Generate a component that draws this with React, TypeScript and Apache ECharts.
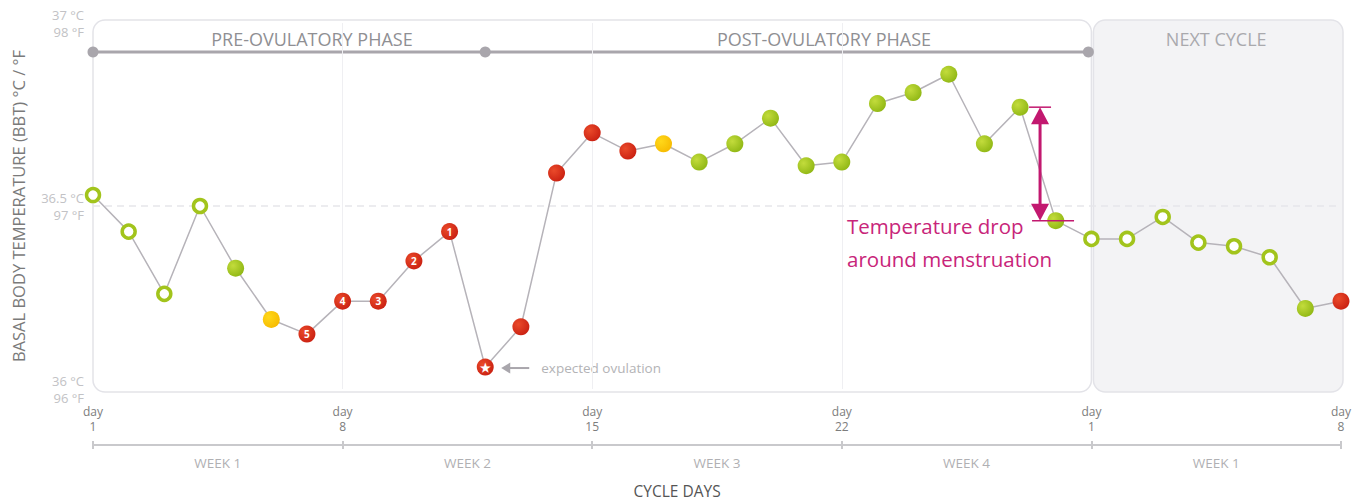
import React, { useEffect, useRef } from "react";
import * as echarts from "echarts";

const days = [1, 2, 3, 4, 5, 6, 7, 8, 9, 10, 11, 12, 13, 14, 15, 16, 17, 18, 19, 20, 21, 22, 23, 24, 25, 26, 27, 28, 29, 30, 31, 32, 33, 34, 35, 36];
const temps = [36.53, 36.43, 36.26, 36.5, 36.33, 36.19, 36.15, 36.24, 36.24, 36.35, 36.43, 36.06, 36.17, 36.59, 36.7, 36.65, 36.67, 36.62, 36.67, 36.74, 36.61, 36.62, 36.78, 36.81, 36.86, 36.67, 36.77, 36.46, 36.41, 36.41, 36.47, 36.4, 36.39, 36.36, 36.22, 36.24];
// h = hollow, g = green, y = yellow, r = red, s = red with star
const kinds = ["h", "h", "h", "h", "g", "y", "r", "r", "r", "r", "r", "s", "r", "r", "r", "r", "y", "g", "g", "g", "g", "g", "g", "g", "g", "g", "g", "g", "h", "h", "h", "h", "h", "h", "g", "r"];
const badges = ["", "", "", "", "", "", "5", "4", "3", "2", "1", "★", "", "", "", "", "", "", "", "", "", "", "", "", "", "", "", "", "", "", "", "", "", "", "", ""];
const dayTicks = [1, 8, 15, 22, 29, 36];
const dayTickLabels = ["1", "8", "15", "22", "1", "8"];
const weekCenters = [4.5, 11.5, 18.5, 25.5, 32.5];
const weekLabels = ["WEEK 1", "WEEK 2", "WEEK 3", "WEEK 4", "WEEK 1"];
const yTicks = [36, 36.5, 37];
const yTickLabels = ["36 °C\n96 °F", "36.5 °C\n97 °F", "37 °C\n98 °F"];
const gridDays = [8, 15, 22];
const phaseDots = [1, 12, 29];
const phaseNames = ["PRE-OVULATORY PHASE", "POST-OVULATORY PHASE", "NEXT CYCLE"];
const phaseLabelDays = [7.14, 21.5, 32.5];
const xTitle = "CYCLE DAYS";
const xTitleDay = 17.38;
const ovulationDay = 12;
const dropFromDay = 27;
const dropToDay = 28;

const FONT = "'Open Sans', 'Noto Sans', sans-serif";

function markerStyle(kind: string) {
  if (kind === "h") {
    return { symbolSize: 13, itemStyle: { color: "#ffffff", borderColor: "#a2c41c", borderWidth: 3.5 } };
  }
  const stops: Record<string, [string, string]> = {
    g: ["#c3dc3c", "#8db512"],
    y: ["#ffd81a", "#f6b900"],
    r: ["#ea4a2a", "#c81e10"],
    s: ["#ea4a2a", "#c81e10"],
  };
  const [a, b] = stops[kind];
  return {
    symbolSize: 17,
    itemStyle: {
      color: new echarts.graphic.RadialGradient(0.35, 0.35, 0.75, [
        { offset: 0, color: a },
        { offset: 1, color: b },
      ]),
      borderWidth: 0,
    },
  };
}

export default function App() {
  const ref = useRef<HTMLDivElement>(null);
  useEffect(() => {
    document.body.style.margin = "0";
    const chart = echarts.init(ref.current!, null, { renderer: "svg" });
    const data = days.map((d, i) => {
      const st = markerStyle(kinds[i]);
      return {
        value: [d, temps[i]],
        symbol: "circle",
        symbolSize: st.symbolSize,
        itemStyle: st.itemStyle,
        label: badges[i]
          ? {
              show: true,
              position: "inside",
              formatter: badges[i],
              color: "#fff",
              fontSize: badges[i] === "★" ? 12 : 10,
              fontWeight: "bold",
              fontFamily: FONT,
            }
          : { show: false },
      };
    });
    chart.setOption({
      animation: false,
      grid: { left: 93, right: 12, top: 23, bottom: 113, containLabel: false, outerBoundsMode: "none" },
      xAxis: [
        {
          type: "value",
          min: 1,
          max: 36,
          axisLine: { show: false },
          axisTick: { show: false },
          splitLine: { show: false },
          axisLabel: {
            customValues: dayTicks,
            formatter: (v: number) => "day\n" + dayTickLabels[dayTicks.indexOf(v)],
            color: "#7d7d7d",
            fontSize: 12,
            lineHeight: 15,
            margin: 15,
            fontFamily: FONT,
          },
        },
        {
          type: "value",
          min: 1,
          max: 36,
          position: "bottom",
          offset: 56,
          axisLine: { show: true, lineStyle: { color: "#c9c9cc", width: 2 } },
          axisTick: { show: true, customValues: dayTicks, length: 4, lineStyle: { color: "#c9c9cc", width: 2 } },
          splitLine: { show: false },
          axisLabel: {
            customValues: weekCenters,
            formatter: (v: number) => weekLabels[weekCenters.indexOf(v)],
            color: "#b0b0b3",
            fontSize: 13.5,
            margin: 11,
            fontFamily: FONT,
          },
        },
        {
          type: "value",
          min: 1,
          max: 36,
          position: "bottom",
          offset: 56,
          axisLine: { show: false },
          axisTick: { show: true, inside: true, customValues: dayTicks, length: 4, lineStyle: { color: "#c9c9cc", width: 2 } },
          axisLabel: { show: false },
          splitLine: { show: false },
        },
      ],
      yAxis: {
        type: "value",
        min: 36,
        max: 37,
        interval: 0.5,
        axisLine: { show: false },
        axisTick: { show: false },
        splitLine: { show: false },
        axisLabel: {
          formatter: (v: number) => yTickLabels[yTicks.indexOf(v)] ?? "",
          color: "#c2c2c5",
          fontSize: 13,
          lineHeight: 17,
          margin: 9,
          fontFamily: FONT,
        },
        name: "BASAL BODY TEMPERATURE (BBT) °C / °F",
        nameLocation: "middle",
        nameRotate: 90,
        nameGap: 66,
        nameTextStyle: { color: "#7a7a7a", fontSize: 16.5, fontFamily: FONT },
      },
      series: [
        {
          type: "line",
          data,
          z: 5,
          lineStyle: { color: "#b6b3b9", width: 1.5 },
          markLine: {
            silent: true,
            symbol: "none",
            label: { show: false },
            data: [
              ...gridDays.map((d) => ({ xAxis: d, lineStyle: { color: "#efeff2", width: 1, type: "solid" } })),
              { yAxis: 36.5, lineStyle: { color: "#e6e6ea", width: 1.5, type: [7, 5] } },
            ],
          },
        },
      ],
    });

    const px = (x: number, y: number) => chart.convertToPixel({ gridIndex: 0 }, [x, y]) as number[];
    const top = px(1, 37)[1] - 3;
    const bottom = px(1, 36)[1] + 3;
    const x1 = px(1, 36)[0];
    const x29 = px(29, 36)[0];
    const x36 = px(36, 36)[0];
    const phaseY = top + 32;
    const magenta = "#c2186f";
    const ov = px(ovulationDay, temps[ovulationDay - 1]);
    const dTop = px(dropFromDay + 0.56, temps[dropFromDay - 1]);
    const dBot = px(dropFromDay + 0.56, temps[dropToDay - 1]);

    const graphics: any[] = [
      {
        type: "rect",
        z: -10,
        shape: { x: x1, y: top, width: x29 - x1, height: bottom - top, r: 12 },
        style: { fill: "rgba(0,0,0,0)", stroke: "#e3e3e8", lineWidth: 1.5 },
      },
      {
        type: "rect",
        z: -10,
        shape: { x: x29 + 2, y: top, width: x36 - x29, height: bottom - top, r: 12 },
        style: { fill: "#f3f3f5", stroke: "#e3e3e8", lineWidth: 1.5 },
      },
      {
        type: "line",
        z: 1,
        shape: { x1: x1, y1: phaseY, x2: x29 - 3, y2: phaseY },
        style: { stroke: "#a9a6ac", lineWidth: 3 },
      },
      ...phaseDots.map((d) => ({
        type: "circle",
        z: 2,
        shape: { cx: Math.min(px(d, 36)[0], x29 - 3), cy: phaseY, r: 5.5 },
        style: { fill: "#a9a6ac" },
      })),
      ...phaseNames.map((n, i) => ({
        type: "text",
        z: 2,
        x: px(phaseLabelDays[i], 36)[0],
        y: top + 19,
        style: {
          text: n,
          fill: i === 2 ? "#a9a9ad" : "#8f8f93",
          font: `18px ${FONT}`,
          align: "center",
          verticalAlign: "middle",
        },
      })),
      {
        type: "text",
        z: 2,
        x: px(xTitleDay, 36)[0],
        y: bottom + 99,
        style: { text: xTitle, fill: "#555555", font: `15.5px ${FONT}`, align: "center", verticalAlign: "middle" },
      },
      // expected ovulation
      {
        type: "line",
        z: 3,
        shape: { x1: ov[0] + 20, y1: ov[1] + 1, x2: ov[0] + 44, y2: ov[1] + 1 },
        style: { stroke: "#a9a6ac", lineWidth: 2 },
      },
      {
        type: "polygon",
        z: 3,
        shape: { points: [[ov[0] + 16, ov[1] + 1], [ov[0] + 25, ov[1] - 4.5], [ov[0] + 25, ov[1] + 6.5]] },
        style: { fill: "#a9a6ac" },
      },
      {
        type: "text",
        z: 3,
        x: ov[0] + 56,
        y: ov[1] + 1,
        style: { text: "expected ovulation", fill: "#b3b3b6", font: `13.5px ${FONT}`, align: "left", verticalAlign: "middle" },
      },
      // temperature drop annotation
      {
        type: "line",
        z: 8,
        shape: { x1: dTop[0], y1: dTop[1] + 10, x2: dBot[0], y2: dBot[1] - 10 },
        style: { stroke: magenta, lineWidth: 3 },
      },
      {
        type: "polygon",
        z: 8,
        shape: { points: [[dTop[0], dTop[1]], [dTop[0] - 9, dTop[1] + 17], [dTop[0] + 9, dTop[1] + 17]] },
        style: { fill: magenta },
      },
      {
        type: "polygon",
        z: 8,
        shape: { points: [[dBot[0], dBot[1]], [dBot[0] - 9, dBot[1] - 17], [dBot[0] + 9, dBot[1] - 17]] },
        style: { fill: magenta },
      },
      {
        type: "line",
        z: 8,
        shape: { x1: dTop[0] - 11, y1: dTop[1], x2: dTop[0] + 11, y2: dTop[1] },
        style: { stroke: magenta, lineWidth: 1.5 },
      },
      {
        type: "line",
        z: 8,
        shape: { x1: dBot[0] - 8, y1: dBot[1], x2: dBot[0] + 34, y2: dBot[1] },
        style: { stroke: magenta, lineWidth: 1.5 },
      },
      {
        type: "text",
        z: 8,
        x: dTop[0] - 193,
        y: dBot[1] + 5,
        style: { text: "Temperature drop", fill: "#c8257a", font: `20.5px ${FONT}`, align: "left", verticalAlign: "middle" },
      },
      {
        type: "text",
        z: 8,
        x: dTop[0] - 193,
        y: dBot[1] + 38,
        style: { text: "around menstruation", fill: "#c8257a", font: `20.5px ${FONT}`, align: "left", verticalAlign: "middle" },
      },
    ];
    chart.setOption({ graphic: graphics });
    return () => chart.dispose();
  }, []);
  return <div ref={ref} style={{ width: 1353, height: 502 }} />;
}
